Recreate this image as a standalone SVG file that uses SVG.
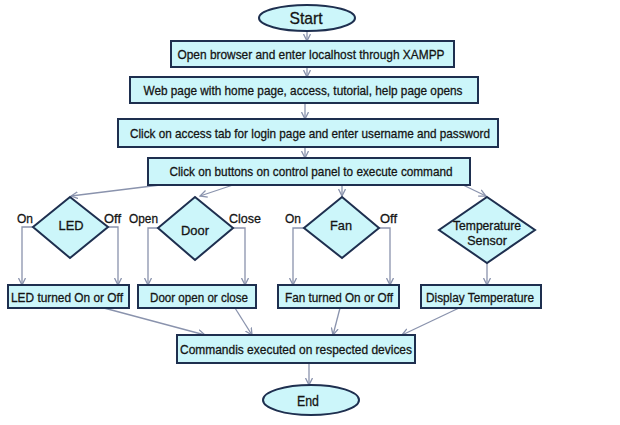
<svg xmlns="http://www.w3.org/2000/svg" width="620" height="425" viewBox="0 0 620 425">
<style>
.n{fill:#ccf6fa;stroke:#1e2f4f;stroke-width:2}
.t{font-family:"Liberation Sans",Arial,sans-serif;font-size:13.5px;fill:#141414;stroke:#141414;stroke-width:0.3;text-anchor:middle}
.l{font-family:"Liberation Sans",Arial,sans-serif;font-size:13.5px;fill:#141414;stroke:#141414;stroke-width:0.3}
.c{fill:none;stroke:#8a93ad;stroke-width:1.3}
</style>
<defs>
<marker id="a" viewBox="0 0 8 8" refX="7" refY="4" markerWidth="8" markerHeight="8" markerUnits="userSpaceOnUse" orient="auto">
<path d="M0,0.5 L7,4 L0,7.5" fill="none" stroke="#8a93ad" stroke-width="1.3"/>
</marker>
</defs>
<rect width="620" height="425" fill="#fff"/>
<g id="connectors" class="c" marker-end="url(#a)">
<path d="M307,31 V41"/>
<path d="M307,67 V77"/>
<path d="M305,103 V119"/>
<path d="M305,147 V158"/>
<path d="M160,185 L71,196"/>
<path d="M233,185 L200,196"/>
<path d="M342,185 V196"/>
<path d="M463,185 L486,196"/>
<path d="M33,227 H22 V285"/>
<path d="M108,227 H118 V285"/>
<path d="M158,228 H148 V285"/>
<path d="M233,228 H245 V285"/>
<path d="M304,228 H293 V285"/>
<path d="M379,228 H390 V285"/>
<path d="M487,263 V285"/>
<path d="M104,308 L205,335"/>
<path d="M235,308 L252,335"/>
<path d="M340,308 L333,335"/>
<path d="M459,308 L402,335"/>
<path d="M309,363 V385"/>
</g>
<g id="start"><ellipse class="n" cx="307" cy="18" rx="48" ry="13"/><text class="t" x="306" y="24" style="font-size:17px" textLength="33" lengthAdjust="spacingAndGlyphs">Start</text></g>
<g id="step1"><rect class="n" x="171" y="41" width="283" height="26"/><text class="t" x="311" y="59" textLength="267" lengthAdjust="spacingAndGlyphs">Open browser and enter localhost  through XAMPP</text></g>
<g id="step2"><rect class="n" x="130" y="77" width="348" height="26"/><text class="t" x="303" y="95" textLength="319" lengthAdjust="spacingAndGlyphs">Web page with home page, access, tutorial, help page opens</text></g>
<g id="step3"><rect class="n" x="118" y="119" width="380" height="28"/><text class="t" x="310" y="138" textLength="360" lengthAdjust="spacingAndGlyphs">Click on access tab for login page and enter username and password</text></g>
<g id="step4"><rect class="n" x="148" y="158" width="322" height="27"/><text class="t" x="311" y="176" textLength="283" lengthAdjust="spacingAndGlyphs">Click on buttons on control panel to execute command</text></g>
<g id="led"><polygon class="n" points="70,197 108,227 70,258 33,227"/><text class="t" x="71" y="230" textLength="25" lengthAdjust="spacingAndGlyphs">LED</text><text class="l" x="17" y="223" textLength="16" lengthAdjust="spacingAndGlyphs">On</text><text class="l" x="104" y="223" textLength="17" lengthAdjust="spacingAndGlyphs">Off</text></g>
<g id="door"><polygon class="n" points="195,197 233,228 195,260 158,228"/><text class="t" x="195" y="235" textLength="28" lengthAdjust="spacingAndGlyphs">Door</text><text class="l" x="129" y="223" textLength="29" lengthAdjust="spacingAndGlyphs">Open</text><text class="l" x="229" y="223" textLength="32" lengthAdjust="spacingAndGlyphs">Close</text></g>
<g id="fan"><polygon class="n" points="342,197 379,228 342,258 304,228"/><text class="t" x="341" y="230" textLength="22" lengthAdjust="spacingAndGlyphs">Fan</text><text class="l" x="285" y="223" textLength="16" lengthAdjust="spacingAndGlyphs">On</text><text class="l" x="380" y="223" textLength="17" lengthAdjust="spacingAndGlyphs">Off</text></g>
<g id="temp"><polygon class="n" points="487,197 535,230 487,263 439,230"/><text class="t" x="487" y="230" style="font-size:12.5px" textLength="68" lengthAdjust="spacingAndGlyphs">Temperature</text><text class="t" x="487" y="245" style="font-size:12.5px">Sensor</text></g>
<g id="ledout"><rect class="n" x="8" y="285" width="121" height="23"/><text class="t" x="67" y="302" textLength="112" lengthAdjust="spacingAndGlyphs">LED turned On or Off</text></g>
<g id="doorout"><rect class="n" x="138" y="285" width="118" height="23"/><text class="t" x="199" y="302" textLength="98" lengthAdjust="spacingAndGlyphs">Door open or close</text></g>
<g id="fanout"><rect class="n" x="278" y="285" width="121" height="23"/><text class="t" x="339" y="302" textLength="108" lengthAdjust="spacingAndGlyphs">Fan turned On or Off</text></g>
<g id="dispout"><rect class="n" x="421" y="285" width="120" height="23"/><text class="t" x="480" y="302" textLength="108" lengthAdjust="spacingAndGlyphs">Display Temperature</text></g>
<g id="command"><rect class="n" x="177" y="335" width="238" height="28"/><text class="t" x="296" y="354" textLength="232" lengthAdjust="spacingAndGlyphs">Commandis executed on respected devices</text></g>
<g id="end"><ellipse class="n" cx="311" cy="400" rx="48" ry="15"/><text class="t" x="308" y="406" style="font-size:15px" textLength="22" lengthAdjust="spacingAndGlyphs">End</text></g>
</svg>
